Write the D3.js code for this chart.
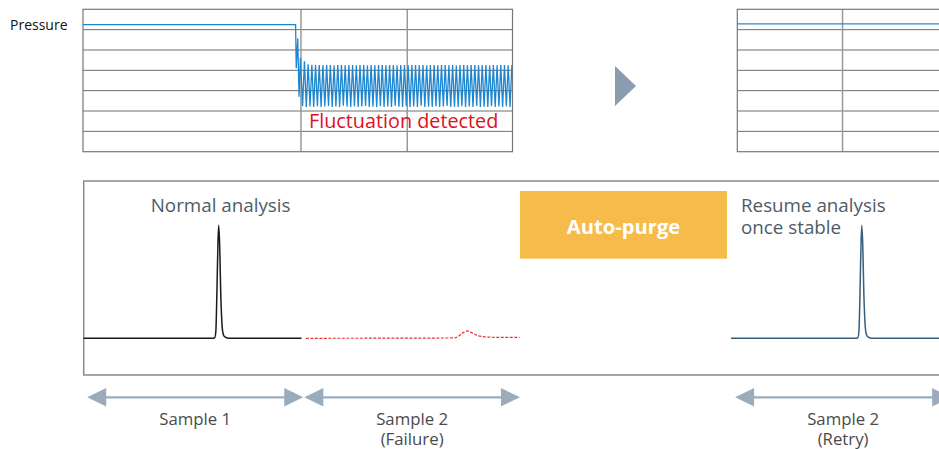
<!DOCTYPE html>
<html>
<head>
<meta charset="utf-8">
<script src="https://cdn.jsdelivr.net/npm/d3@7"></script>
<style>
	body { margin: 0; background: #fff; }
	svg { display: block; font-family: "Open Sans", sans-serif; }
</style>
</head>
<body>
<div id="chart"></div>
<script>
// pressure traces, in grid rows (0 = bottom line, 7 = top line), time in minutes
const pressureRows = [1, 2, 3, 4, 5, 6];
const leftGridTimes = [2.03, 3.02];
const rightGridTimes = [0.98];

const beforeTimes = [0, 1.98, 1.986, 2.0, 2.012, 2.025];
const beforeValues = [6.25, 6.25, 4.1, 5.57, 2.7, 4.62];

const fluctStart = 2.045;
const fluctPeriod = 0.0345;
const fluctHighs = [4.45, 4.3, 4.27, 4.26, 4.26, 4.25, 4.26, 4.26, 4.24, 4.26, 4.26, 4.25, 4.26, 4.26, 4.25, 4.26, 4.26, 4.24, 4.26, 4.25, 4.26, 4.26, 4.25, 4.26, 4.26, 4.24, 4.26, 4.26, 4.25, 4.26, 4.26, 4.25, 4.26, 4.24, 4.26, 4.26, 4.25, 4.26, 4.26, 4.25, 4.26, 4.24, 4.26, 4.26, 4.25, 4.26, 4.26, 4.25, 4.26, 4.26, 4.24, 4.26, 4.25, 4.26, 4.26, 4.25, 4.26];
const fluctLows = [2.25, 2.2, 2.22, 2.2, 2.24, 2.2, 2.22, 2.25, 2.2, 2.22, 2.2, 2.26, 2.21, 2.2, 2.23, 2.2, 2.22, 2.25, 2.2, 2.21, 2.2, 2.24, 2.2, 2.22, 2.2, 2.25, 2.21, 2.2, 2.23, 2.2, 2.22, 2.2, 2.26, 2.2, 2.21, 2.2, 2.24, 2.2, 2.22, 2.25, 2.2, 2.21, 2.2, 2.23, 2.2, 2.22, 2.2, 2.25, 2.2, 2.21, 2.2, 2.24, 2.2, 2.22, 2.2, 2.23, 2.2];

const stableTimes = [0, 4];
const stableValues = [6.28, 6.28];

// chromatograms: time (min) vs signal (% of peak)
const sample1Times = [0, 5.9, 6.02, 6.07, 6.11, 6.16, 6.2, 6.25, 6.29, 6.34, 6.38, 6.43, 6.52, 6.65, 10.0];
const sample1Values = [0, 0, 0.5, 6, 32, 78, 100, 80, 44, 17, 6.5, 2.5, 0.8, 0, 0];

const failureTimes = [10.2, 17.0, 17.2, 17.4, 17.58, 17.8, 18.05, 18.4, 18.9, 20.0];
const failureValues = [0, 0.3, 1.8, 4.8, 6.5, 5.0, 2.6, 1.3, 0.9, 0.9];

const retryTimes = [29.7, 35.4, 35.52, 35.57, 35.61, 35.66, 35.7, 35.75, 35.79, 35.84, 35.88, 35.93, 36.02, 36.15, 40.0];
const retryValues = [0, 0, 0.5, 6, 32, 78, 100, 80, 44, 17, 6.5, 2.5, 0.8, 0, 0];

const samples = [
	{ from: 0.17, to: 10.08, label: ["Sample 1"] },
	{ from: 10.13, to: 20.02, label: ["Sample 2", "(Failure)"] },
	{ from: 29.89, to: 39.8, label: ["Sample 2", "(Retry)"] }
];

const W = 939, H = 449;

const svg = d3.select('#chart').append('svg')
	.attr('width', W)
	.attr('height', H);

const yP = d3.scaleLinear().domain([0, 7]).range([151.7, 9.3]);
const xL = d3.scaleLinear().domain([0, 4]).range([83, 512.5]);
const xR = d3.scaleLinear().domain([0, 4]).range([737.3, 1166.8]);

function grid(x, vlines) {
	const g = svg.append('g');
	g.selectAll('line.h')
		.data(pressureRows)
		.enter().append('line')
		.attr('x1', x(0)).attr('x2', x(4))
		.attr('y1', d => yP(d)).attr('y2', d => yP(d))
		.attr('stroke', '#6e6e6e')
		.attr('stroke-width', 1);

	g.selectAll('line.v')
		.data(vlines)
		.enter().append('line')
		.attr('x1', d => x(d)).attr('x2', d => x(d))
		.attr('y1', yP(7)).attr('y2', yP(0))
		.attr('stroke', '#999')
		.attr('stroke-width', 1.5);

	g.append('rect')
		.attr('x', x(0)).attr('y', yP(7))
		.attr('width', x(4) - x(0)).attr('height', yP(0) - yP(7))
		.attr('fill', 'none')
		.attr('stroke', '#777')
		.attr('stroke-width', 1.2);
};

grid(xL, leftGridTimes);
grid(xR, rightGridTimes);

const pressurePts = beforeTimes.map((t, i) => [t, beforeValues[i]]);
fluctHighs.forEach((h, i) => {
	const t = fluctStart + i * fluctPeriod;
	pressurePts.push([t, fluctLows[i]]);
	pressurePts.push([t + fluctPeriod / 2, h]);
});

const lineL = d3.line().x(d => xL(d[0])).y(d => yP(d[1]));
const lineR = d3.line().x(d => xR(d[0])).y(d => yP(d[1]));

svg.append('path')
	.attr('d', lineL(pressurePts))
	.attr('fill', 'none')
	.attr('stroke', '#1c86d1')
	.attr('stroke-width', 1.3);

svg.append('path')
	.attr('d', lineR(stableTimes.map((t, i) => [t, stableValues[i]])))
	.attr('fill', 'none')
	.attr('stroke', '#2a8ad6')
	.attr('stroke-width', 1.3);

svg.append('text')
	.attr('x', 10).attr('y', 30)
	.attr('font-size', 14)
	.attr('fill', '#111')
	.text('Pressure');

svg.append('text')
	.attr('x', 309).attr('y', 128)
	.attr('font-size', 19.8)
	.attr('fill', '#e0101e')
	.text('Fluctuation detected');

// arrow between the two pressure charts
svg.append('path')
	.attr('d', 'M615,66L636,86L615,106Z')
	.attr('fill', '#8a9db0');

// chromatogram box
const xC = d3.scaleLinear().domain([0, 40]).range([83.5, 955.5]);
const yC = d3.scaleLinear().domain([0, 100]).range([338.3, 225.3]);

svg.append('path')
	.attr('d', `M${W + 5},181H83.7V375H${W + 5}`)
	.attr('fill', 'none')
	.attr('stroke', '#8a8a8a')
	.attr('stroke-width', 1.5);

const lineC = d3.line().x(d => xC(d[0])).y(d => yC(d[1])).curve(d3.curveMonotoneX);

svg.append('path')
	.attr('d', lineC(sample1Times.map((t, i) => [t, sample1Values[i]])))
	.attr('fill', 'none')
	.attr('stroke', '#1a1a1a')
	.attr('stroke-width', 1.5);

svg.append('path')
	.attr('d', lineC(failureTimes.map((t, i) => [t, failureValues[i]])))
	.attr('fill', 'none')
	.attr('stroke', '#e8302a')
	.attr('stroke-width', 1.2)
	.attr('stroke-dasharray', '3,1.5');

svg.append('path')
	.attr('d', lineC(retryTimes.map((t, i) => [t, retryValues[i]])))
	.attr('fill', 'none')
	.attr('stroke', '#355f7d')
	.attr('stroke-width', 1.5);

const txt = '#4e5b67';
svg.append('text')
	.attr('x', 150.7).attr('y', 211.7)
	.attr('font-size', 18.8)
	.attr('fill', txt)
	.text('Normal analysis');

svg.append('text')
	.attr('x', 741).attr('y', 211.7)
	.attr('font-size', 18.8)
	.attr('fill', txt)
	.selectAll('tspan')
	.data(['Resume analysis', 'once stable'])
	.enter().append('tspan')
	.attr('x', 741)
	.attr('dy', (d, i) => i ? 22.6 : 0)
	.text(d => d);

svg.append('rect')
	.attr('x', 520).attr('y', 191)
	.attr('width', 207).attr('height', 67.7)
	.attr('fill', '#f7bb4c');

svg.append('text')
	.attr('x', 623.5).attr('y', 234)
	.attr('text-anchor', 'middle')
	.attr('font-size', 20.2)
	.attr('font-weight', 'bold')
	.attr('fill', '#fff')
	.text('Auto-purge');

// sample range arrows
const arrowY = 397.3;
const head = 19, half = 9.2;
const ag = svg.append('g').selectAll('g')
	.data(samples)
	.enter().append('g');

ag.append('line')
	.attr('x1', d => xC(d.from) + head - 1).attr('x2', d => xC(d.to) - head + 1)
	.attr('y1', arrowY).attr('y2', arrowY)
	.attr('stroke', '#9aabbc')
	.attr('stroke-width', 2.2);

ag.append('path')
	.attr('d', d => {
		const a = xC(d.from), b = xC(d.to);
		return `M${a},${arrowY}L${a + head},${arrowY - half}V${arrowY + half}Z` +
			`M${b},${arrowY}L${b - head},${arrowY - half}V${arrowY + half}Z`;
	})
	.attr('fill', '#9aabbc');

ag.append('text')
	.attr('text-anchor', 'middle')
	.attr('font-size', 16.8)
	.attr('fill', '#4a4a4a')
	.selectAll('tspan')
	.data(d => d.label.map(l => ({ l, c: (xC(d.from) + xC(d.to)) / 2 })))
	.enter().append('tspan')
	.attr('x', d => d.c)
	.attr('y', (d, i) => 425 + i * 20)
	.text(d => d.l);
</script>
</body>
</html>
